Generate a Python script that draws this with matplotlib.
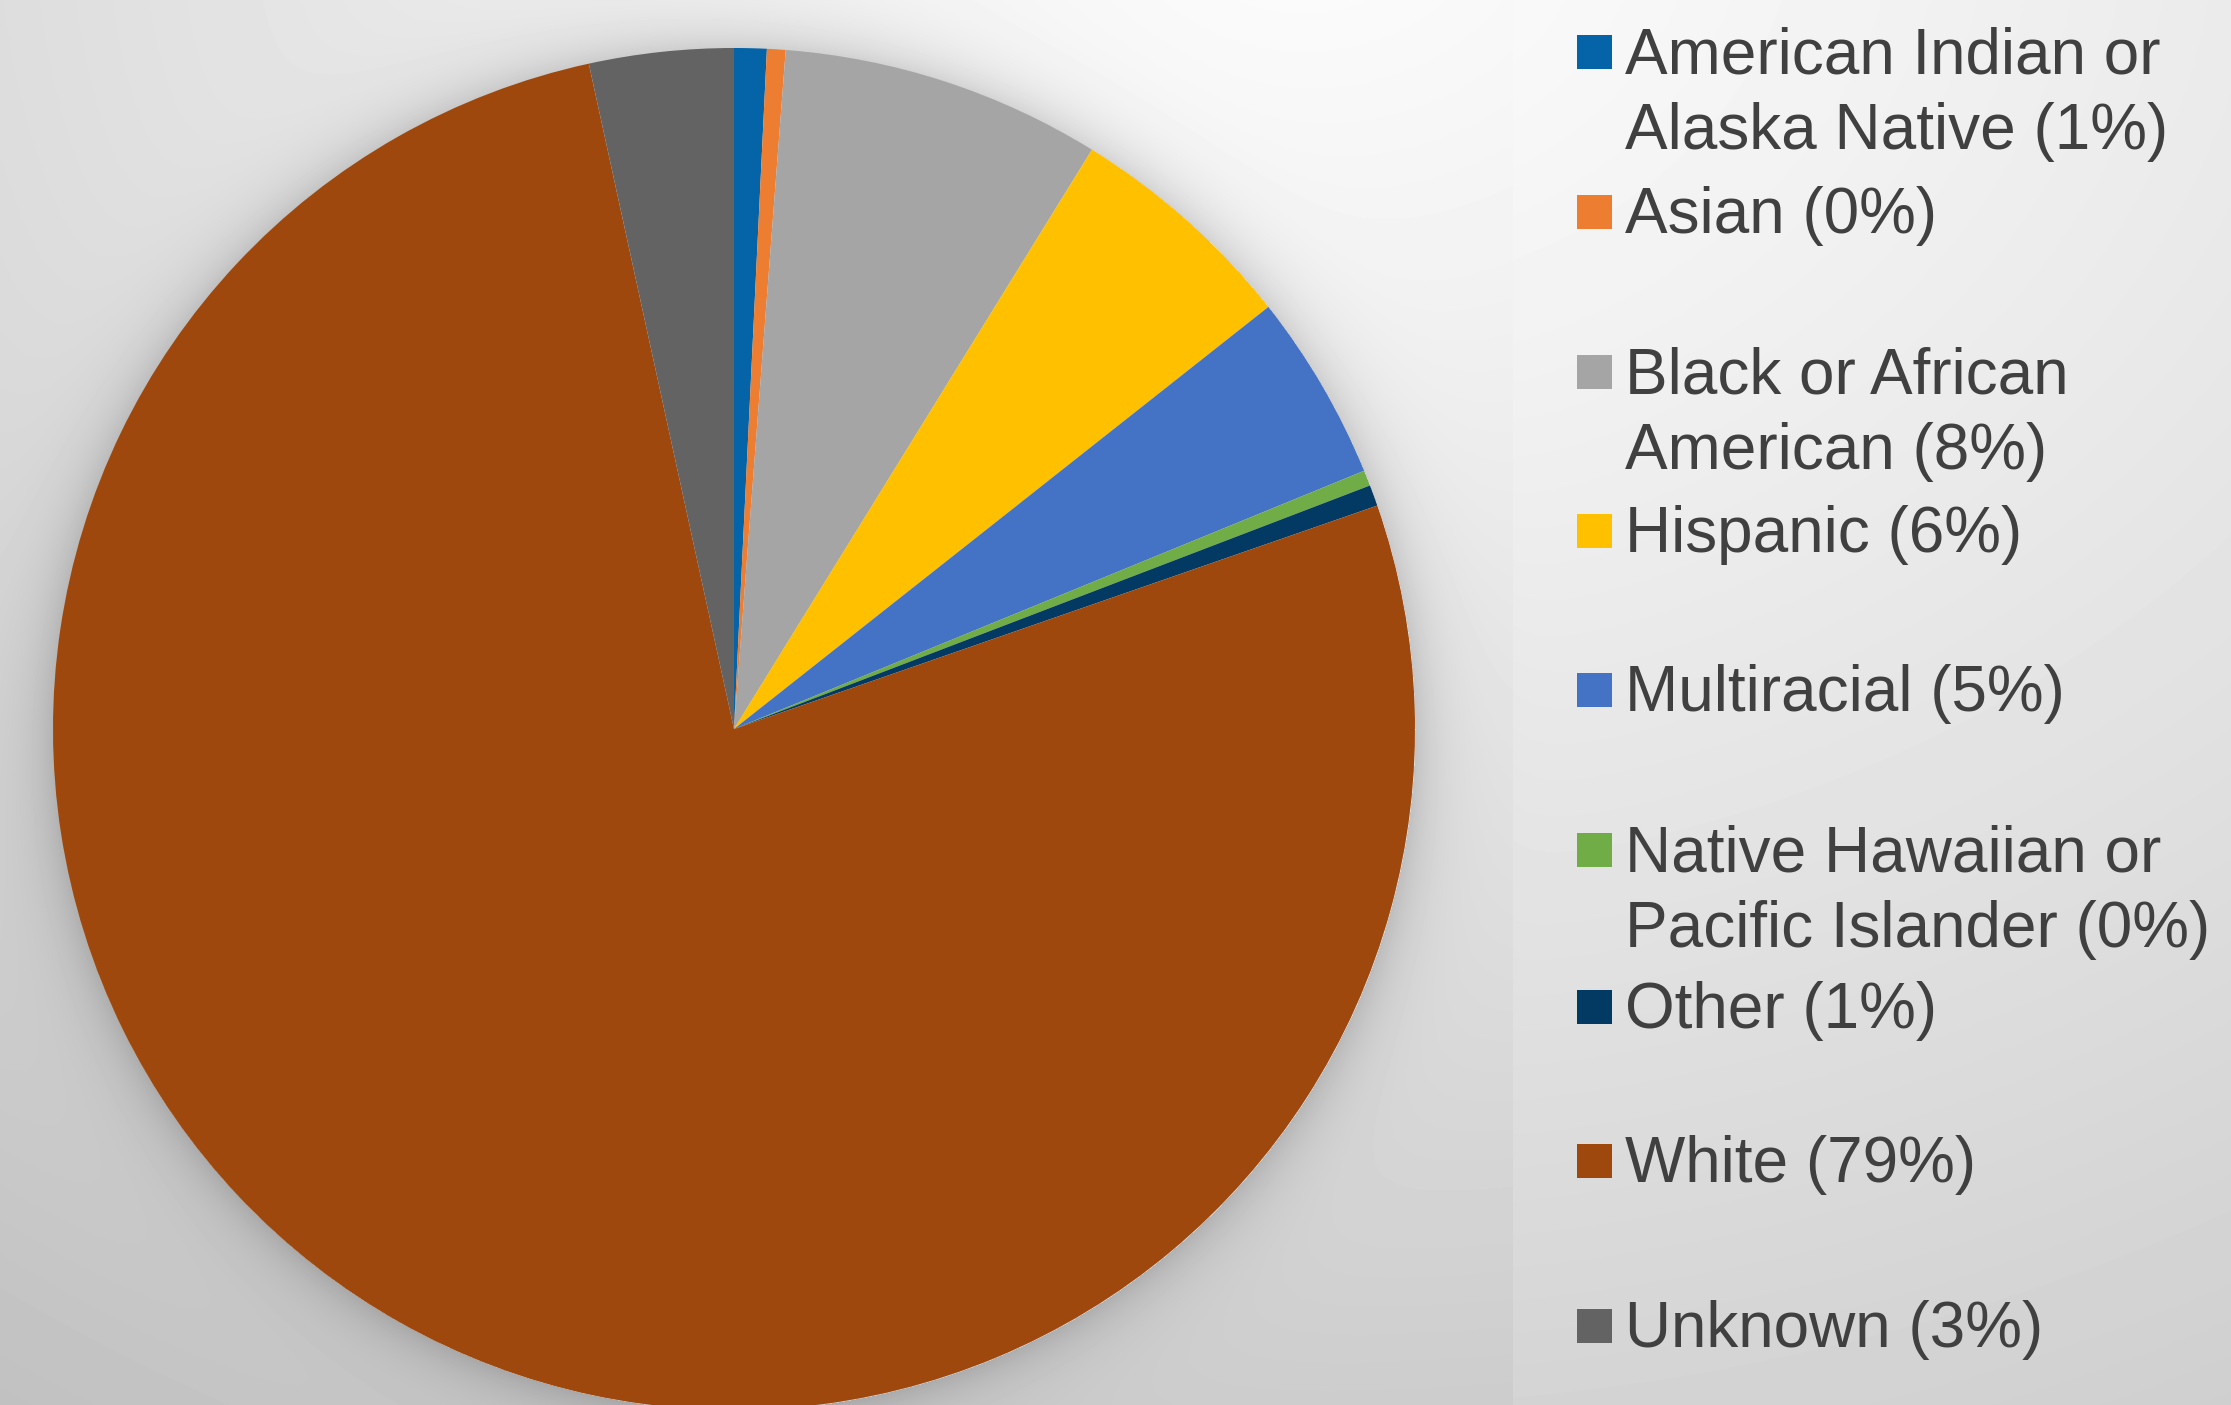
import numpy as np
import matplotlib
matplotlib.use("Agg")
import matplotlib.pyplot as plt
from matplotlib.patches import Rectangle

# ---- data ----
categories = ["American Indian or Alaska Native", "Asian", "Black or African American",
              "Hispanic", "Multiracial", "Native Hawaiian or Pacific Islander",
              "Other", "White", "Unknown"]
shares = [0.77, 0.44, 7.6, 5.55, 4.45, 0.37, 0.5, 76.9, 3.42]
legend_lines = [["American Indian or", "Alaska Native (1%)"],
                ["Asian (0%)"],
                ["Black or African", "American (8%)"],
                ["Hispanic (6%)"],
                ["Multiracial (5%)"],
                ["Native Hawaiian or", "Pacific Islander (0%)"],
                ["Other (1%)"],
                ["White (79%)"],
                ["Unknown (3%)"]]
colors = ["#0563A8", "#ED7D31", "#A5A5A5", "#FFC000", "#4472C4",
          "#70AD47", "#033A63", "#9E480E", "#636363"]

# ---- layout (pixels) ----
W, H = 2231, 1405
cx, cy, R = 734, 729, 681
baselines = [[73, 149], [233], [393, 469], [552], [711], [871, 947], [1028], [1182], [1347]]

fig = plt.figure(figsize=(W / 100, H / 100), dpi=100)

# background gradient with pie shadow and lighter legend panel
yy, xx = np.mgrid[0:H, 0:W].astype(float)
d = np.sqrt(((xx - 1300) * 0.8) ** 2 + (yy + 100) ** 2)
v = 0.99 - 0.16 * (d / 1312.0) ** 1.15
r = np.sqrt((xx - cx) ** 2 + (yy - cy) ** 2)
sh = np.where(r > R, 0.13 * np.exp(-(r - R) / 28.0), 0.0)
v = v - sh
panel = xx >= 1513
v = np.where(panel, v + 0.15 * (1 - v), v)
v = np.clip(v, 0, 1)
bg = fig.add_axes([0, 0, 1, 1])
bg.imshow(v, cmap="gray", vmin=0, vmax=1, extent=(0, W, H, 0), aspect="auto",
          interpolation="bilinear")
bg.axis("off")

# pie
ax = fig.add_axes([(cx - R) / W, (H - cy - R) / H, 2 * R / W, 2 * R / H])
ax.pie(shares, colors=colors, startangle=90, counterclock=False, radius=1,
       wedgeprops=dict(linewidth=0, edgecolor="none"))
ax.set_xlim(-1, 1)
ax.set_ylim(-1, 1)
ax.axis("off")

# legend
for lines, bl, col in zip(legend_lines, baselines, colors):
    c = bl[0] - 21
    fig.add_artist(Rectangle((1577 / W, 1 - (c + 17) / H), 35 / W, 34 / H,
                             transform=fig.transFigure, facecolor=col, edgecolor="none"))
    for s, b in zip(lines, bl):
        fig.text(1625 / W, 1 - b / H, s, fontsize=46, color="#404040",
                 family="Liberation Sans", ha="left", va="baseline")

fig.savefig("out.png", dpi=100)
